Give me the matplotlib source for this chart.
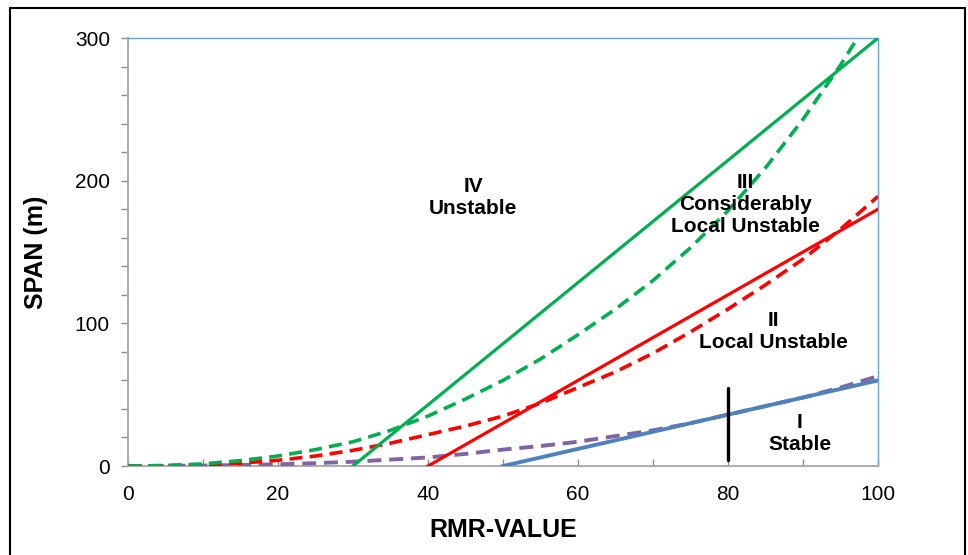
import matplotlib
matplotlib.use("Agg")
import matplotlib.pyplot as plt
from matplotlib.patches import Rectangle
from matplotlib.ticker import MultipleLocator

plt.rcParams['font.family'] = ['Liberation Sans', 'DejaVu Sans']

# Solid boundary lines (RMR, span)
class_iv_x = [30, 100]
class_iv_y = [0, 300]
class_ii_x = [40, 100]
class_ii_y = [0, 180]
class_i_x = [50, 100]
class_i_y = [0, 60]

# Dashed curves
rmr_dash = [0, 5, 10, 15, 20, 25, 30, 35, 40, 45, 50, 55, 60, 65, 70, 75, 80, 85, 90, 95, 100]
green_dash = [0, 0.3, 1.5, 3.8, 7, 11.5, 17, 25, 35, 47, 60, 75, 92, 110, 130, 153, 179, 209, 243, 281, 323]
red_dash = [0, 0.2, 0.8, 2, 4, 7, 11, 16, 22, 28, 35, 44, 55, 66, 79, 94, 110, 127, 145, 166, 189]
purple_dash = [0, 0.1, 0.3, 0.7, 1.2, 2, 3, 4.5, 6, 8.5, 11.5, 14, 17, 21, 25, 30, 36, 42, 48, 55, 63]

# Vertical marker
marker_x = [80, 80]
marker_y = [4, 55]

zone_labels = ["IV\nUnstable", "III\nConsiderably\nLocal Unstable", "II\nLocal Unstable", "I\nStable"]
zone_x = [46, 82.3, 86, 89.6]
zone_y = [188.5, 183, 94.3, 22.8]

fig = plt.figure(figsize=(9.68, 5.55), dpi=100)
ax = fig.add_axes([128/968, 89/555, 750/968, 428/555])

GREEN = '#00b050'
RED = '#ff0000'
BLUE = '#4f81bd'
PURPLE = '#8064a2'
dash = (0, (3.6, 2.0))

ax.plot(rmr_dash, purple_dash, color=PURPLE, lw=2.8, linestyle=dash, zorder=3)
ax.plot(rmr_dash, red_dash, color=RED, lw=2.6, linestyle=dash, zorder=3)
ax.plot(rmr_dash, green_dash, color=GREEN, lw=2.6, linestyle=dash, zorder=3)
ax.plot(class_i_x, class_i_y, color=BLUE, lw=2.8, zorder=4)
ax.plot(class_ii_x, class_ii_y, color=RED, lw=2.3, zorder=4)
ax.plot(class_iv_x, class_iv_y, color=GREEN, lw=2.3, zorder=4)
ax.plot(marker_x, marker_y, color='black', lw=2.4, solid_capstyle='round', zorder=5)

for t, x, y in zip(zone_labels, zone_x, zone_y):
    ax.text(x, y, t, ha='center', va='center', fontsize=15, fontweight='bold',
            linespacing=1.2, zorder=6)

ax.set_xlim(0, 100)
ax.set_ylim(0, 300)
ax.xaxis.set_major_locator(MultipleLocator(20))
ax.xaxis.set_minor_locator(MultipleLocator(10))
ax.yaxis.set_major_locator(MultipleLocator(100))
ax.yaxis.set_minor_locator(MultipleLocator(20))

tick_col = '#8c8c8c'
ax.tick_params(axis='x', which='both', direction='in', length=5, width=1, color=tick_col,
               labelsize=15, pad=14)
ax.tick_params(axis='y', which='both', direction='out', length=5, width=1, color=tick_col,
               labelsize=15, pad=8)

for s in ['left', 'bottom']:
    ax.spines[s].set_color('#a6a6a6')
    ax.spines[s].set_linewidth(1.3)
for s in ['top', 'right']:
    ax.spines[s].set_color('#6f9fd8')
    ax.spines[s].set_linewidth(1.0)

ax.set_xlabel('RMR-VALUE', fontsize=18, fontweight='bold', labelpad=10)
ax.set_ylabel('SPAN (m)', fontsize=18, fontweight='bold', labelpad=19)

fig.patches.append(Rectangle((10/968, -0.02), 955/968, 1 - 8/555 + 0.02,
                             transform=fig.transFigure, fill=False,
                             edgecolor='black', linewidth=1.5))

fig.savefig('out.png', dpi=100)
